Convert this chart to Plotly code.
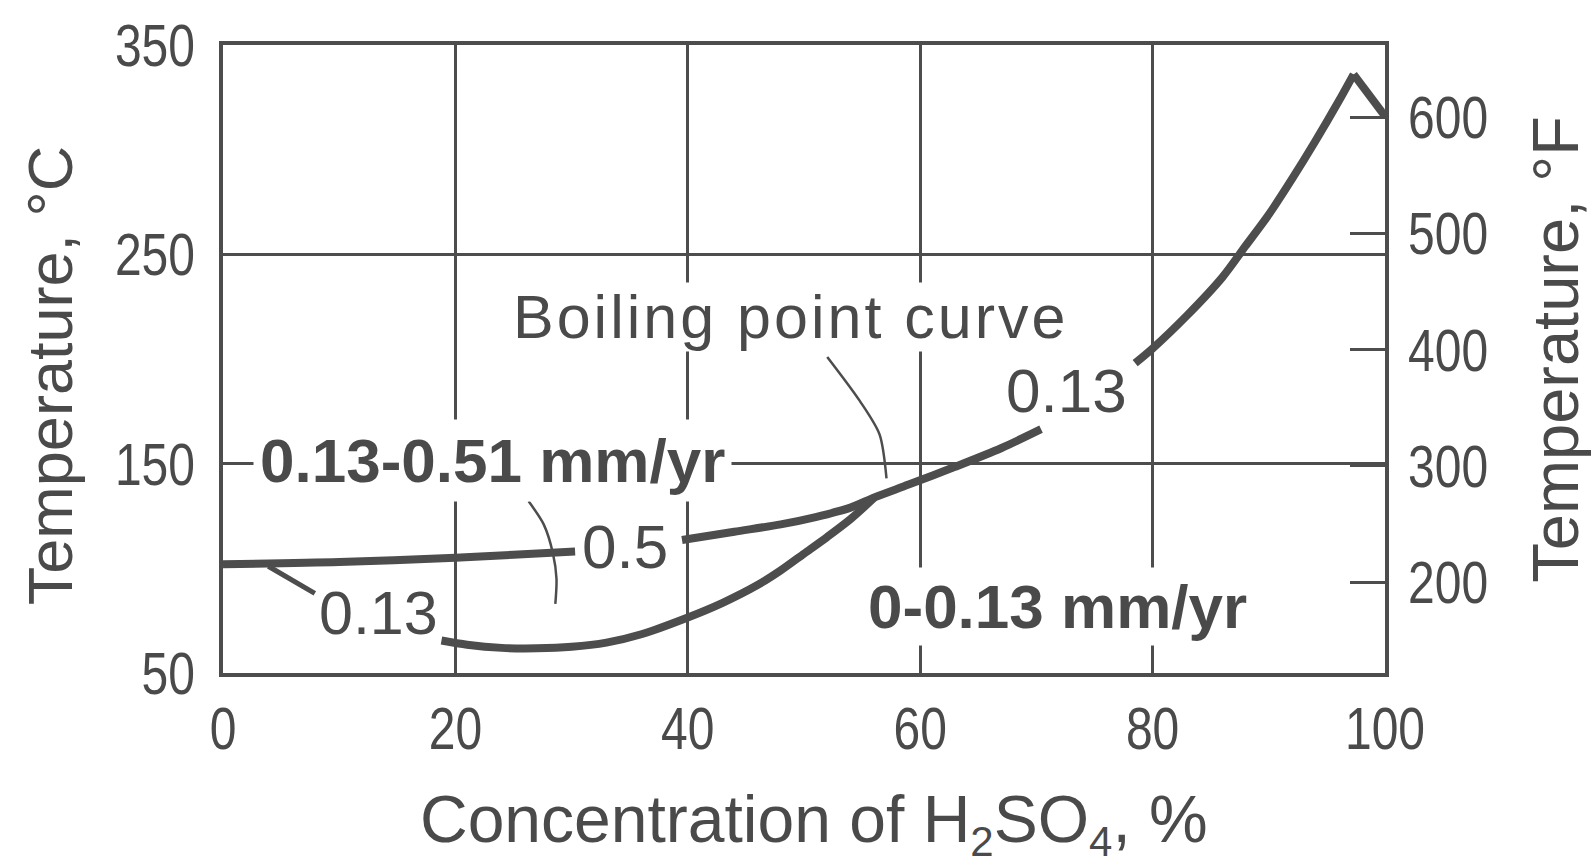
import plotly.graph_objects as go

# ---------------- data ----------------
# boiling point curve, drawn in three pieces (gaps left for the labels)
bp_low_x = [0, 10, 20, 25, 30.3]
bp_low_y = [102, 103, 105, 106.5, 108]
bp_mid_x = [39.5, 44, 48, 51, 54, 56.1, 59, 63, 67, 70.4]
bp_mid_y = [113.5, 117.5, 121, 124.5, 129, 134, 140, 148.5, 157.5, 166.5]
bp_high_x = [78.5, 80, 83, 86, 88, 90, 92, 94, 96, 97.3, 100]
bp_high_y = [198, 205, 221, 239, 254, 269, 286, 304, 323, 336, 316]
# 0.13 mm/yr iso-corrosion curve
iso013_x = [18.8, 21, 24, 27, 30, 33, 36, 40, 43, 46, 48, 50, 52, 54, 56.1]
iso013_y = [65.5, 63.5, 62, 61.8, 62.5, 64.5, 68.5, 76.5, 83.5, 92, 99, 107, 115, 123.5, 134]
# short 0.13 stub near the left edge
stub013_x = [3.9, 7.9]
stub013_y = [101, 88]
# leader lines
leader_bp_x = [52, 54.8, 56.5, 57.1]
leader_bp_y = [201, 180, 164, 143]
leader_05_x = [26.3, 27.6, 28.4, 28.7, 28.6]
leader_05_y = [132, 121, 107, 95, 83]

x_ticks = [0, 20, 40, 60, 80, 100]
c_ticks = [50, 150, 250, 350]
f_ticks = [200, 300, 400, 500, 600]
c_range = [50, 350]
f_range = [c * 9 / 5 + 32 for c in c_range]

LINE = "#4d4d4d"
TXT = "#4a4a4a"
SANS = "Liberation Sans, Arial, Helvetica, sans-serif"

fig = go.Figure()


def curve(x, y, w=8, shape="spline"):
    fig.add_trace(go.Scatter(x=x, y=y, mode="lines", showlegend=False, hoverinfo="skip",
                             line=dict(color=LINE, width=w, shape=shape, smoothing=0.8)))


curve(bp_low_x, bp_low_y)
curve(bp_mid_x, bp_mid_y)
curve(bp_high_x[:-1], bp_high_y[:-1])
curve(bp_high_x[-2:], bp_high_y[-2:], shape="linear")
curve(iso013_x, iso013_y)
curve(stub013_x, stub013_y, w=5, shape="linear")
curve(leader_bp_x, leader_bp_y, w=2.5)
curve(leader_05_x, leader_05_y, w=2.5)
# invisible trace so that the °F axis is drawn
fig.add_trace(go.Scatter(x=[None], y=[None], yaxis="y2", showlegend=False, hoverinfo="skip"))

tickfont = dict(family=SANS, size=60, color=TXT)
axis_common = dict(showgrid=True, gridcolor=LINE, gridwidth=2.5, showline=True, linewidth=4,
                   linecolor=LINE, mirror=True, ticks="", zeroline=False, tickfont=tickfont)

fig.update_layout(
    width=1594, height=865,
    margin=dict(l=223, r=209, t=39, b=192),
    paper_bgcolor="white", plot_bgcolor="white",
    xaxis=dict(range=[0, 100], tickvals=x_ticks, ticklabelstandoff=0, **axis_common),
    yaxis=dict(range=c_range, tickvals=c_ticks, ticklabelstandoff=12, **axis_common),
    yaxis2=dict(range=f_range, tickvals=f_ticks, overlaying="y", side="right", showgrid=False,
                showline=False, zeroline=False, ticks="inside", ticklen=35, tickwidth=2.5,
                tickcolor=LINE, tickfont=tickfont, ticklabelstandoff=22),
    showlegend=False,
)


def label(x, y, text, size=62, bold=False, bg=None, pad=0):
    fig.add_annotation(x=x, y=y, xref="x", yref="y", text=text, showarrow=False,
                       font=dict(family=SANS, size=size, color=TXT,
                                 weight="bold" if bold else "normal"),
                       bgcolor=bg, borderpad=pad, xanchor="center", yanchor="middle")


label(48.8, 220, '<span style="letter-spacing:3px">Boiling point curve</span>', size=61,
      bg="white", pad=0)
label(23.2, 151.5, "0.13-0.51 mm/yr", size=62, bold=True, bg="white", pad=6)
label(71.8, 82, "0-0.13 mm/yr", size=62, bold=True, bg="white", pad=4)
label(72.6, 185, "0.13", size=62)
label(34.6, 110.5, "0.5", size=62)
label(13.4, 78.5, "0.13", size=61)

# axis titles
title_font = dict(family=SANS, size=63, color=TXT)
fig.add_annotation(x=-0.149, y=0.474, xref="paper", yref="paper", text="Temperature, °C",
                   textangle=-90, showarrow=False, font=title_font, xanchor="center", yanchor="middle")
fig.add_annotation(x=1.147, y=0.516, xref="paper", yref="paper", text="Temperature, °F",
                   textangle=-90, showarrow=False, font=dict(family=SANS, size=65, color=TXT),
                   xanchor="center", yanchor="middle")
fig.add_annotation(x=0.509, y=-0.240, xref="paper", yref="paper",
                   text=('Concentration of H<sub><span style="font-size:42px">2</span></sub>'
                         'SO<sub><span style="font-size:42px">4</span></sub>, %'),
                   showarrow=False, font=dict(family=SANS, size=66, color=TXT),
                   xanchor="center", yanchor="middle")

# the reference uses a condensed face for the tick numbers: squeeze the tick texts
post = """
document.body.style.margin='0';document.body.style.overflow='hidden';
document.querySelectorAll('.xtick text, .ytick text, .y2tick text').forEach(function(t){
  var w = t.getComputedTextLength();
  t.setAttribute('textLength', (w*0.8).toFixed(1));
  t.setAttribute('lengthAdjust', 'spacingAndGlyphs');
});
"""

fig.write_html("out.html", config={"displayModeBar": False}, post_script=post)
